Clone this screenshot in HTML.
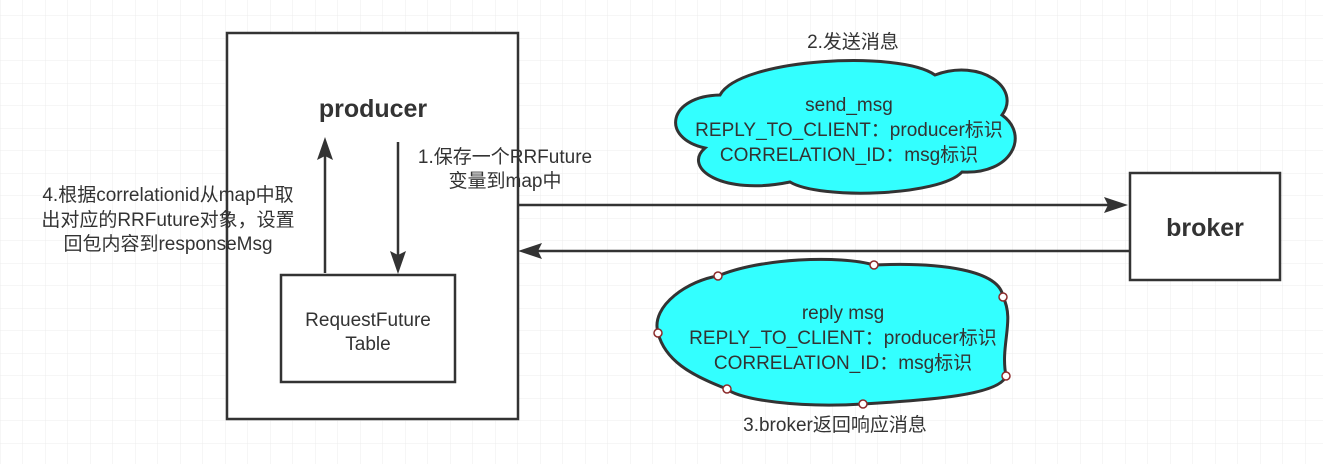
<!DOCTYPE html>
<html><head><meta charset="utf-8"><style>
html,body{margin:0;padding:0;background:#fff;}
svg text{font-family:"Liberation Sans","Noto Sans CJK SC",sans-serif;fill:#333;}
</style></head><body>
<svg width="1323" height="464" viewBox="0 0 1323 464" xmlns="http://www.w3.org/2000/svg">
<defs>
<pattern id="g" x="22.5" y="15.5" width="22.5" height="22.5" patternUnits="userSpaceOnUse">
<path d="M0 0H22.5M0 0V22.5" stroke="#ececec" stroke-width="1" fill="none"/>
</pattern>
</defs>
<rect width="1323" height="464" fill="url(#g)"/>
<g stroke="#333" stroke-width="2.5" fill="#fff">
<rect x="227" y="33" width="291" height="386"/>
<rect x="1130" y="173" width="150" height="107"/>
<rect x="281" y="275" width="174" height="107"/>
</g>
<g stroke="#333" stroke-width="2.5" fill="none">
<path d="M518 205H1112"/><path d="M1130 251H536"/>
<path d="M325 273V155"/><path d="M398 142V258"/>
</g>
<g fill="#333">
<path d="M1128 205L1104 197L1108 205L1104 213Z"/>
<path d="M518 251L542 243L538 251L542 259Z"/>
<path d="M325 137L317 160L325 156L333 160Z"/>
<path d="M398 274L390 251L398 255L406 251Z"/>
</g>
<g fill="#33ffff" stroke="#333" stroke-width="3">
<path d="M720 95 C740 58 900 50 935 75 C980 58 1022 88 1002 115 C1030 135 1012 175 962 172 C940 196 820 200 790 182 C722 196 682 168 705 148 C660 138 668 96 720 95 Z"/>
<path d="M658 333 C650 305 690 280 718 276 C760 258 840 255 874 265 C940 262 1000 270 1003 297 C1015 320 1000 345 1006 376 C1000 395 930 400 863 404 C800 408 740 400 727 389 C690 375 665 360 658 333 Z"/>
</g>
<g fill="#fff" stroke="#8b2a2a" stroke-width="1.5">
<circle cx="718" cy="276" r="4"/><circle cx="874" cy="265" r="4"/><circle cx="1003" cy="297" r="4"/>
<circle cx="658" cy="333" r="4"/><circle cx="1006" cy="376" r="4"/><circle cx="727" cy="389" r="4"/><circle cx="863" cy="404" r="4"/>
</g>
<g font-size="19" text-anchor="middle">
<text x="849" y="111" fill="#111">send_msg</text>
<text x="849" y="136" fill="#111">REPLY_TO_CLIENT：producer标识</text>
<text x="849" y="161" fill="#111">CORRELATION_ID：msg标识</text>
<text x="843" y="319" fill="#111">reply msg</text>
<text x="843" y="344" fill="#111">REPLY_TO_CLIENT：producer标识</text>
<text x="843" y="369" fill="#111">CORRELATION_ID：msg标识</text>
</g>
<g font-size="19" text-anchor="middle">
<text x="853" y="48">2.发送消息</text>
<text x="835" y="431">3.broker返回响应消息</text>
<text x="505" y="163">1.保存一个RRFuture</text>
<text x="505" y="187">变量到map中</text>
<text x="168" y="201">4.根据correlationid从map中取</text>
<text x="168" y="226">出对应的RRFuture对象，设置</text>
<text x="168" y="250">回包内容到responseMsg</text>
<text x="368" y="326">RequestFuture</text>
<text x="368" y="350">Table</text>
</g>
<g font-size="25" font-weight="bold" text-anchor="middle">
<text x="373" y="117">producer</text>
<text x="1205" y="236">broker</text>
</g>
</svg>
</body></html>
